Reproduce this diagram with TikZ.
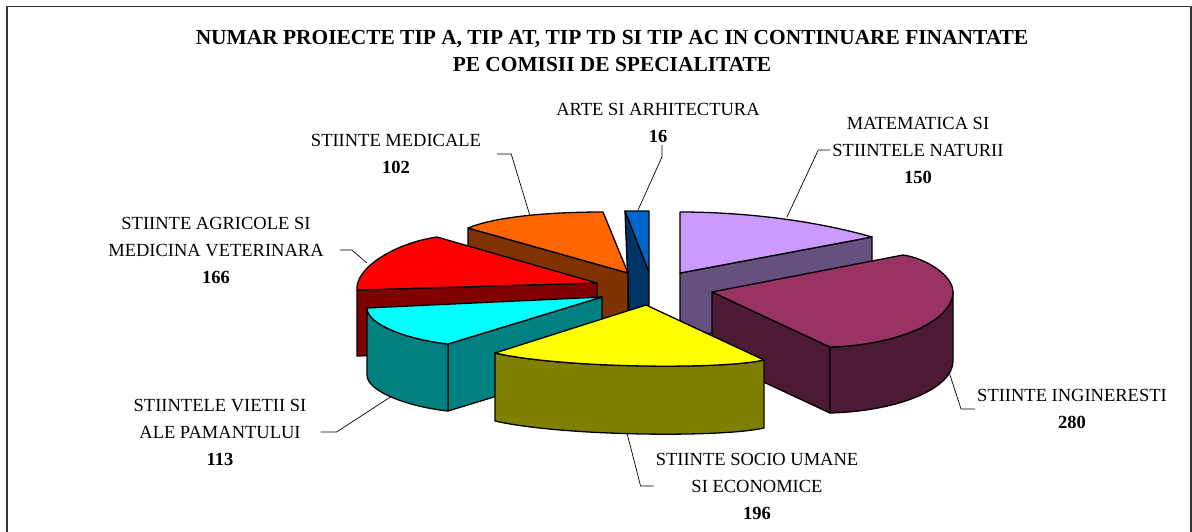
\documentclass[tikz,border=0pt]{standalone}
\usepackage{fontspec}
\setmainfont{Liberation Serif}
\definecolor{matTop}{HTML}{CC99FF}
\definecolor{matSide}{HTML}{665080}
\definecolor{ingTop}{HTML}{993366}
\definecolor{ingSide}{HTML}{4D1A33}
\definecolor{socTop}{HTML}{FFFF00}
\definecolor{socSide}{HTML}{808000}
\definecolor{vieTop}{HTML}{00FFFF}
\definecolor{vieSide}{HTML}{008080}
\definecolor{agrTop}{HTML}{FF0000}
\definecolor{agrSide}{HTML}{800000}
\definecolor{medTop}{HTML}{FF6600}
\definecolor{medSide}{HTML}{803300}
\definecolor{artTop}{HTML}{0066CC}
\definecolor{artSide}{HTML}{003366}
\begin{document}
\begin{tikzpicture}[x=1pt, y=-1pt, line join=round,
    face/.style={draw=black, line width=1.3pt},
    leader/.style={draw=black, line width=0.7pt},
    label node/.style={align=center, inner sep=2pt, font=\fontsize{18.5}{27}\selectfont}]
  \useasboundingbox (0,0) rectangle (1192,531);
  \draw[line width=1.8pt, black!80] (7,560) -- (7,6.5) -- (1191,6.5) -- (1191,560);

  \node[align=center, font=\fontsize{21.4}{27}\selectfont\bfseries] (title) at (612,51.5)
    {NUMAR PROIECTE TIP A, TIP AT, TIP TD SI TIP AC IN CONTINUARE FINANTATE\\PE COMISII DE SPECIALITATE};

  % slices, back to front
  \filldraw[face, fill=matSide] (680,273) -- (872,237) -- (872,303) -- (680,339) -- cycle;
  \filldraw[face, fill=matTop] (680,273) -- (680,212) .. controls (750,212) and (820,222) .. (872,237) -- cycle;
  \filldraw[face, fill=artSide] (625,211) -- (649,272) -- (649,338) -- (630,338) -- cycle;
  \filldraw[face, fill=artTop] (625,211) -- (649,211) -- (649,272) -- cycle;
  \filldraw[face, fill=medSide] (468,228) -- (628,273) -- (628,339) -- (468,294) -- cycle;
  \filldraw[face, fill=medTop] (468,228) .. controls (500,215) and (560,212) .. (603,212) -- (628,273) -- cycle;
  \filldraw[face, fill=agrSide] (357,290) -- (597,283) -- (597,349) -- (357,356) -- cycle;
  \filldraw[face, fill=agrTop] (437,237) -- (597,283) -- (357,290) .. controls (355,268) and (395,243) .. (437,237) -- cycle;
  \filldraw[face, fill=vieSide] (448,344) -- (602,297) -- (602,364) -- (448,411) -- cycle;
  \filldraw[face, fill=vieSide] (367,308) .. controls (367,325) and (410,340) .. (448,344) -- (448,411) .. controls (410,407) and (367,392) .. (367,375) -- cycle;
  \filldraw[face, fill=vieTop] (367,308) -- (602,297) -- (448,344) .. controls (410,340) and (367,325) .. (367,308) -- cycle;
  \filldraw[face, fill=ingSide] (712,292) -- (830,347) -- (830,413) -- (712,358) -- cycle;
  \filldraw[face, fill=ingSide] (953,292) .. controls (953,320) and (900,345) .. (830,347) -- (830,413) .. controls (900,411) and (953,388) .. (953,361) -- cycle;
  \filldraw[face, fill=ingTop] (712,292) -- (903,255) .. controls (925,258) and (953,275) .. (953,292) .. controls (953,320) and (900,345) .. (830,347) -- cycle;
  \filldraw[face, fill=socSide] (764,360) .. controls (720,370) and (560,368) .. (495,353) -- (495,421) .. controls (560,436) and (720,438) .. (764,428) -- cycle;
  \filldraw[face, fill=socTop] (646,305) -- (764,360) .. controls (720,370) and (560,368) .. (495,353) -- cycle;

  % points where the leaders touch the slices
  \coordinate (tipMat) at (787,217);
  \coordinate (tipIng) at (949,372);
  \coordinate (tipSoc) at (627,433);
  \coordinate (tipVie) at (392,396);
  \coordinate (tipAgr) at (367,263);
  \coordinate (tipMed) at (530,216);
  \coordinate (tipArt) at (638,210);

  \node[label node] (mat) at (918,150) {MATEMATICA SI\\STIINTELE NATURII\\\textbf{150}};
  \node[label node] (ing) at (1072,409) {STIINTE INGINERESTI\\\textbf{280}};
  \node[label node] (soc) at (757,486) {STIINTE SOCIO UMANE\\SI ECONOMICE\\\textbf{196}};
  \node[label node] (vie) at (220,432) {STIINTELE VIETII SI\\ALE PAMANTULUI\\\textbf{113}};
  \node[label node] (agr) at (216,250) {STIINTE AGRICOLE SI\\MEDICINA VETERINARA\\\textbf{166}};
  \node[label node] (med) at (396,154) {STIINTE MEDICALE\\\textbf{102}};
  \node[label node] (art) at (658,123) {ARTE SI ARHITECTURA\\\textbf{16}};

  \draw[leader] (mat.west) -- ++(-12,0) -- (tipMat);
  \draw[leader] (ing.west) -- ++(-14,0) -- (tipIng);
  \draw[leader] (soc.west) -- ++(-13,0) -- (tipSoc);
  \draw[leader] (vie.east) ++(12,0) -- ++(16,0) -- (tipVie);
  \draw[leader] (agr.east) ++(14,0) -- ++(12,0) -- (tipAgr);
  \draw[leader] (med.east) ++(14,0) -- ++(14,0) -- (tipMed);
  \draw[leader] ([xshift=4pt]art.south) -- ++(0,12) -- (tipArt);
\end{tikzpicture}
\end{document}
